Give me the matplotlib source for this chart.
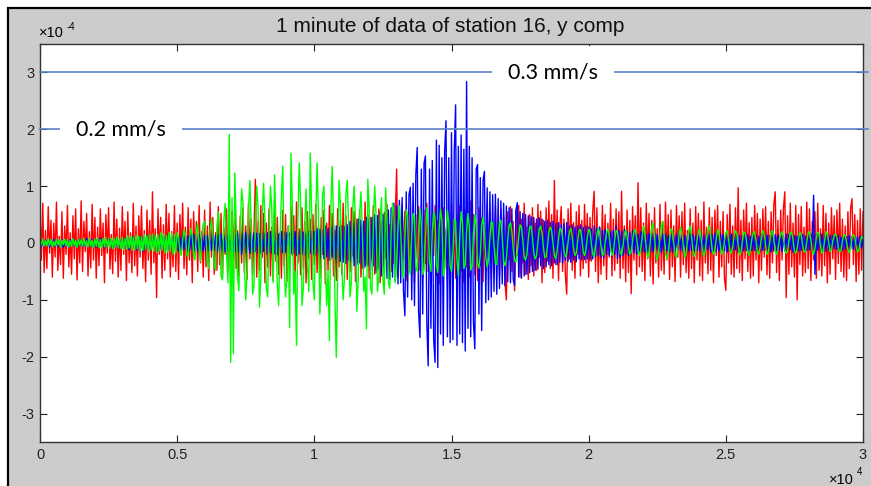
import matplotlib
matplotlib.use('Agg')
import matplotlib.pyplot as plt
import numpy as np
from matplotlib.patches import Rectangle

# Station 16, 1 minute of data, three traces.
# Values in units of 1e-6 (so 100 == 1 x 10^-4), one value every 50 samples,
# each row below covers 1000 samples.
step = 50

red = [
    58, -30, 70, -52, 22, -45, 64, -18, 40, -60, 35, -25, 72, -48, 12, -38, 55, -62, 30, -20,
    66, -42, 18, -55, 48, -28, 60, -65, 25, -35, 74, -50, 38, -15, 52, -58, 20, -44, 68, -30,
    45, -62, 28, -40, 60, -22, 35, -70, 50, -18, 62, -46, 15, -54, 72, -32, 42, -60, 26, -48,
    64, -20, 38, -66, 55, -35, 18, -52, 70, -40, 30, -58, 48, -25, 65, -45, 22, -68, 58, -30,
    40, -55, 90, -35, 25, -96, 60, -20, 45, -62, 32, -48, 68, -28, 52, -60, 20, -42, 66, -50,
    35, -64, 50, -18, 70, -45, 28, -56, 62, -30, 42, -70, 55, -22, 38, -50, 66, -35, 20, -60,
    58, -42, 30, -66, 72, -25, 45, -55, 18, -48, 64, -38, 52, -62, 28, -20, 60, -50, 40, -68,
    55, -30, 68, -45, 22, -58, 48, -35, 62, -52, 30, -64, 70, -28, 42, -56, 20, 112, -60, 38,
    -48, 66, -25, 52, -70, 35, -42, 60, -58, 28, -66, 74, -32, 45, -55, 18, -62, 58, -40, 50,
    -68, 30, -50, 64, -22, 48, -60, 72, -35, 25, -56, 62, -45, 38, -70, 55, -28, 42, -64, 50,
    -38, 68, -52, 30, -62, 45, -20, 58, -72, 35, -48, 66, -30, 52, -58, 22, -66, 60, -42, 40,
    -55, 70, -28, 48, -64, 36, -50, 62, -22, 55, -68, 42, -35, 58, -60, 30, -46, 72, -38, 50,
    -62, 45, -30, 66, -55, 25, -48, 60, -70, 38, -42, 54, -26, 68, -58, 32, -50, 62, -36, 48,
    130, -60, 40, -52, 68, -30, 56, -66, 22, -45, 62, -55, 35, -70, 50, -28, 64, -48, 42, -62,
    58, -36, 70, -50, 30, -64, 48, -22, 66, -58, 40, -72, 55, -30, 62, -45, 25, -68, 52, -40,
    72, -55, 35, -62, 48, -28, 66, -50, 22, -70, 58, -42, 38, -60, 74, -32, 50, -56, 28, -66,
    62, -40, 45, -68, 30, -52, 70, -25, 55, -62, 38, -48, 66, -35, 20, -58, 60, -44, 48, -70,
    -100, 55, -30, 64, -50, 38, -84, 58, -22, 66, -60, 42, -35, 70, -55, 28, -64, 50, -40, 62,
    -58, 35, -48, 68, -25, 56, -70, 40, -52, 62, -32, 74, -45, 50, -62, 110, -38, 58, -66, 30,
    64, -50, 42, -55, -90, 60, -28, 70, -48, 36, -62, 55, -20, 66, -58, 40, -45, 68, -35, 52,
    -60, 45, -32, 58, 91, -50, 62, -70, 28, -55, 66, -40, 50, -64, 35, -25, 70, -58, 42, -48,
    60, -36, 55, -62, 91, -45, 30, -68, 58, -52, 40, -89, 64, -30, 48, -56, 106, -42, 62, -50,
    35, -66, 70, -28, 52, -58, 40, -72, 62, -35, 25, -60, 68, -48, 38, -55, 72, -30, 50, -64,
    58, -42, 30, -68, 66, -25, 48, -60, 55, -38, 70, -52, 22, -62, 60, -45, 35, -70, 64, -30,
    52, -58, 40, -66, 72, -35, 28, -54, 62, -48, 45, -70, 58, -22, 66, -60, 38, -42, 55, -62,
    -83, 50, -35, 68, -55, 30, -60, 62, -45, 97, -52, 40, -66, 58, -28, 70, -50, 36, -62, 45,
    -58, 66, -30, 52, -70, 42, -48, 60, -25, 64, -56, 38, -62, 55, -35, 68, 90, -52, 40, -66,
    58, -30, 62, 90, -96, 48, -55, 70, -42, 35, -60, 66, -100, 50, -38, 64, -58, 28, -52, 72,
    -45, 60, -66, 38, -30, 55, -62, 70, -48, 25, -58, 66, -40, 52, -70, 35, -55, 62, -28, 48,
    -64, 58, -36, 70, -50, 42, -60, 30, -66, 55, -45, 62, 78, -38, 50, -68, 40, -55, 60, -48,
    55,
]

green = [
    5, -3, 7, -6, 4, -5, 8, -4, 6, -7, 3, -5, 7, -4, 6, -8, 5, -3, 7, -5,
    6, -7, 4, -6, 8, -5, 5, -8, 7, -4, 6, -6, 9, -5, 4, -7, 8, -6, 5, -8,
    7, -6, 9, -8, 6, -9, 8, -7, 10, -6, 7, -9, 8, -10, 9, -7, 11, -8, 7, -10,
    10, -12, 8, -11, 13, -9, 11, -13, 10, -12, 14, -10, 12, -14, 11, -13, 15, -11, 13, -15,
    14, -12, 16, -15, 13, -17, 15, -14, 18, -13, 16, -18, 14, -16, 19, -15, 17, -20, 15, -18,
    18, 10, -15, -22, 5, 24, 14, -20, -25, 8, 26, 12, -21, -30, 20, 35, -10, -32, 15, 34,
    38, 10, -35, -45, 20, 42, 15, -38, -48, 30, 55, 10, -58, -65, 40, 70, -20, -70, 191, -210,
    80, -195, 123, 40, -60, -84, 20, 95, 70, -40, -100, -50, 60, 110, 30, -90, -75, 40, 100, 60,
    -113, -60, 50, 105, 40, -80, -95, 20, 100, 60, -70, 120, 30, -75, -110, 10, 85, 135, -40, -95,
    -60, 30, -149, 158, 60, -90, -50, -180, 40, 141, 70, -110, -80, 30, 95, -40, -85, 158, 60, -70,
    -100, 40, 141, 50, -125, -60, 85, 100, -30, -110, -50, -172, 60, 135, 40, -95, -201, -60, 110, 70,
    -40, -100, -60, 85, 110, 30, -95, -70, 60, 100, 40, -120, -65, 50, 90, 20, -85, -60, -151, 112,
    60, -80, -90, 30, 100, 50, -85, -60, 40, 80, -65, -90, 97, 40, -70, -80, 20, 70, 55, -70,
    -40, 30, 65, 20, -50, -62, 10, 58, 48, -45, -55, 15, 52, 45, -42, -50, 20, 60, 35, -55,
    -48, 10, 62, 30, -35, -50, 20, 55, 45, -38, -52, 25, 60, 40, -58, -45, 15, 58, 36, -40,
    -50, -20, 42, 38, -30, -58, 10, 55, 35, -45, -38, 20, 52, 30, -48, -40, 15, 50, 30, -36,
    -44, -20, 30, 45, 20, -25, -42, -30, 10, 38, 35, -5, -35, -38, 5, 36, 40, 10, -32, -40,
    -28, 5, 30, 36, 20, -10, -30, -34, -15, 12, 32, 28, 5, -25, -30, -20, 8, 28, 30, 10,
    -18, -28, -22, 2, 24, 30, 18, -8, -26, -24, -5, 20, 28, 22, 0, -22, -28, -15, 8, 26,
    24, 10, -14, -24, -20, 2, 20, 26, 12, -10, -22, -18, 4, 22, 24, 8, -16, -22, -12, 10,
    24, 20, -2, -20, -24, -8, 14, 26, 18, -6, -22, -20, 0, 18, 25, 12, -10, -22, -16, 6,
    22, 20, 2, -18, -21, -6, 16, 23, 12, -8, -20, -17, 4, 20, 24, 8, -14, -22, -12, 10,
    30, 18, -10, -26, -22, 5, 28, 35, 12, -20, -30, -15, 10, 32, 38, 15, -18, -28, -20, 6,
    25, 22, 0, -20, -26, -10, 16, 28, 18, -5, -25, -20, 4, 22, 30, 12, -12, -24, -18, 5,
    20, 25, 8, -15, -24, -14, 10, 22, 30, 12, -12, -20, -14, 8, 24, 18, -4, -20, -16, 4,
    18, 22, 6, -14, -18, -8, 12, 22, 16, -4, -21, -16, 2, 20, 18, 4, -15, -22, -10, 8,
    18, 20, 4, -16, -20, -8, 10, 22, 15, -6, -20, -16, 2, 20, 22, 6, -14, -20, -12, 6,
    16, 20, 8, -12, -18, -15, 4, 18, 20, 6, -14, -18, -10, 8, 19, 14, -4, -16, -15, 2,
    18, 20, 6, -14, -20, -10, 10, 19, 15, -6, -18, -14, 4, 20, 16, 0, -15, -12, 4, 14,
    16, 10, -8, -16, -13, 4, 15, 14, 2, -12, -17, -8, 10, 15, 10, -6, -16, -13, 2, 12,
    8,
]

blue = [
    4, -6, 3, -7, 5, -4, 6, -8, 4, -5, 7, -6, 3, -7, 5, -5, 6, -8, 4, -6,
    5, -7, 6, -5, 8, -6, 4, -8, 7, -5, 6, -7, 5, -6, 8, -7, 4, -6, 7, -8,
    6, -8, 7, -6, 9, -7, 5, -9, 8, -6, 7, -8, 6, -9, 8, -7, 9, -8, 6, -9,
    8, -10, 9, -8, 10, -12, 8, -9, 11, -10, 9, -12, 10, -14, 12, -15, 10, -12, 14, -11,
    10, -12, 11, -10, 13, -11, 12, -14, 10, -13, 12, -11, 14, -12, 11, -13, 12, -14, 13, -12,
    12, -14, 10, -13, 15, -11, 14, -16, 12, -14, 16, -12, 15, -13, 11, -15, 14, -12, 16, -14,
    13, -15, 12, -14, 16, -13, 15, -12, 14, -16, 13, -15, 17, -14, 12, -16, 15, -13, 16, -15,
    15, -18, 14, -16, 18, -15, 17, -20, 16, -14, 19, -17, 15, -18, 20, -16, 18, -15, 17, -19,
    16, -18, 19, -15, 17, -20, 18, -16, 20, -17, 15, -19, 18, -21, 16, -18, 20, -17, 19, -16,
    18, -20, 17, -19, 21, -18, 20, -22, 18, -19, 22, -20, 19, -21, 17, -22, 20, -18, 21, -20,
    20, -22, 25, -18, 24, -26, 22, -28, 30, -24, 26, -30, 28, -25, 32, -28, 30, -35, 28, -32,
    30, -34, 28, -36, 32, -30, 38, -33, 35, -40, 36, -38, 42, -35, 40, -44, 38, -42, 45, -40,
    42, -48, 45, -40, 50, -52, 48, -45, 55, -58, 50, -55, 60, -62, 58, -65, 62, -60, 70, -68,
    65, -72, 75, -70, 80, -85, -128, 90, -95, 85, 98, -100, 105, -110, 120, 168, -120, -166, 130, -125,
    140, 153, -140, -216, 130, -150, 145, -170, -210, 181, -219, 172, -160, 150, -180, 160, 215, -165, 150, -175,
    194, -170, 160, 243, -180, 170, -160, 190, -175, 165, -190, 284, -150, 170, -165, 150, -140, -186, 130, 138,
    -125, 115, -154, 110, 126, -105, 97, -100, 90, -95, 85, -85, 86, -90, 78, -80, 74, -72, 70, -75,
    65, -68, 62, -70, 60, -65, -75, 58, 71, -60, 55, -62, 52, -58, 50, -55, 48, -52, 46, -50,
    45, -48, 42, -46, 44, -40, 42, -45, 38, -42, 40, -38, 36, -40, 38, -35, 34, -38, 36, -34,
    32, -35, 34, -30, 36, -32, 30, -34, 32, -30, 28, -33, 30, -28, 32, -30, 27, -29, 30, -28,
    28, -30, 25, -28, 30, -24, 26, -22, 28, -25, 22, -26, 24, -20, 25, -22, 20, -24, 22, -20,
    30, -28, 22, -25, 20, -22, 24, -18, 20, -22, 18, -20, 22, -17, 19, -20, 16, -18, 20, -15,
    18, -16, 15, -18, 17, -14, 16, -15, 18, -13, 15, -16, 14, -17, 15, -12, 16, -14, 13, -15,
    14, -16, 12, -15, 16, -13, 15, -12, 14, -16, 13, -15, 12, -14, 16, -13, 15, -14, 12, -13,
    16, -14, 15, -17, 13, -15, 16, -12, 14, -16, 15, -13, 17, -15, 12, -14, 16, -13, 15, -14,
    14, -16, 12, -15, 16, -13, 15, -12, 14, -16, 13, -15, 12, -14, 16, -13, 15, -14, 12, -13,
    15, -13, 14, -16, 12, -14, 15, -13, 16, -12, 14, -15, 13, -16, 12, -14, 15, -13, 14, -12,
    13, -15, 12, -14, 16, -13, 15, -12, 14, -16, 13, -15, 12, -14, 16, -13, 15, -14, 12, -13,
    14, -12, 16, -13, 84, -55, 15, -13, 14, -12, 16, -14, 12, -15, 13, -11, 14, -12, 13, -10,
    12, -11, 13, -12, 10, -13, 12, -10, 11, -12, 13, -10, 12, -11, 10, -12, 11, -10, 12, -9,
    8,
]

xtick_pos = [0, 5000, 10000, 15000, 20000, 25000, 30000]
xtick_labels = ['0', '0.5', '1', '1.5', '2', '2.5', '3']
ytick_pos = [-3, -2, -1, 0, 1, 2, 3]
ytick_labels = ['-3', '-2', '-1', '0', '1', '2', '3']

# drawn-on reference levels (in units of 1e-4)
level_vals = [2, 3]
level_labels = ['0.2 mm/s', '0.3 mm/s']
level_label_x = [2950, 18700]

plt.rcParams['font.family'] = ['Liberation Sans', 'DejaVu Sans']

W, H = 871, 486
fig = plt.figure(figsize=(W / 100, H / 100), dpi=100)
fig.patch.set_facecolor('white')


def fx(p):
    return p / W


def fy(p):
    return 1 - p / H


# grey matlab window background
fig.add_artist(Rectangle((fx(8), -0.02), 1.0, fy(8) + 0.02, transform=fig.transFigure,
                         facecolor='#cccccc', edgecolor='black', lw=1.6, zorder=0))

ax = fig.add_axes([fx(40), fy(442), (863 - 40) / W, (442 - 44) / H])
ax.set_facecolor('white')

for series, col in [(red, (1, 0, 0)), (blue, (0, 0, 1)), (green, (0, 1, 0))]:
    vals = np.array(series) / 100.0
    xs = np.arange(len(vals)) * step
    ax.plot(xs, vals, color=col, lw=1.0)

ax.set_xlim(0, 30000)
ax.set_ylim(-3.5, 3.5)
ax.set_xticks(xtick_pos)
ax.set_xticklabels(xtick_labels)
ax.set_yticks(ytick_pos)
ax.set_yticklabels(ytick_labels)
ax.tick_params(direction='in', length=5, width=0.8, top=True, right=True,
               labelsize=10.5, pad=4, colors='#222222')
for s in ax.spines.values():
    s.set_linewidth(1.0)
    s.set_color('#333333')

for val, lab, xpos in zip(level_vals, level_labels, level_label_x):
    ax.axhline(val, xmin=0, xmax=1.006, color='#5b82c6', lw=1.2, clip_on=False, zorder=5)
    ax.text(xpos, val, lab, ha='center', va='center', fontsize=15.5, family=['Lato', 'DejaVu Sans'],
            color='black', zorder=6,
            bbox=dict(boxstyle='square,pad=0.75', fc='white', ec='none'))

fig.text(fx(450), fy(26), '1 minute of data of station 16, y comp', ha='center', va='center',
         fontsize=15, color='#111111')

# matlab style exponent labels
fig.text(fx(39), fy(33), '\u00d710', ha='left', va='center', fontsize=10.5)
fig.text(fx(67), fy(27), '-4', ha='left', va='center', fontsize=7)
fig.text(fx(829), fy(480), '\u00d710', ha='left', va='center', fontsize=10.5)
fig.text(fx(857), fy(472), '4', ha='left', va='center', fontsize=7)

fig.savefig('out.png', dpi=100)
